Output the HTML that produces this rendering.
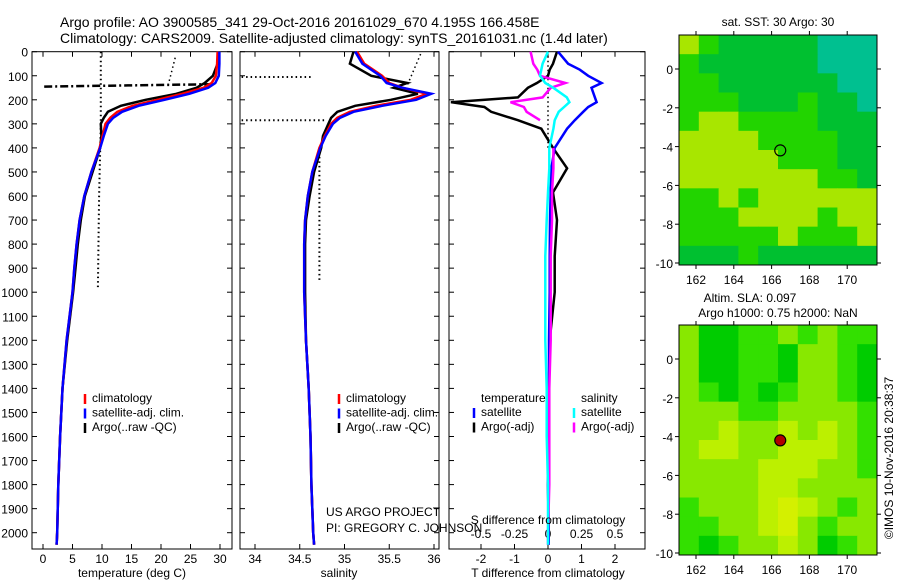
<!DOCTYPE html>
<html><head><meta charset="utf-8"><style>
html,body{margin:0;padding:0;background:#fff;}
svg{display:block;font-family:"Liberation Sans",sans-serif;}
</style></head><body>
<svg id="fig" width="900" height="580" viewBox="0 0 900 580">
<text x="60" y="27" font-size="14">Argo profile: AO 3900585_341 29-Oct-2016 20161029_670 4.195S 166.458E</text>
<text x="60" y="43" font-size="14">Climatology: CARS2009. Satellite-adjusted climatology: synTS_20161031.nc (1.4d later)</text>
</svg>
<script>
// ---------- data ----------
const depths = [0,50,100,130,150,175,200,225,250,275,300,350,400,500,600,700,800,900,1000,1200,1400,1600,1800,2000,2050];
const tempClim = [29.6,29.5,29.3,28.6,27.2,23.6,19.4,15.2,12.6,11.4,10.6,10.1,9.6,8.2,7.0,6.2,5.7,5.3,5.0,4.0,3.3,2.9,2.6,2.4,2.3];
const tempSat  = [29.9,29.9,29.8,29.2,28.0,24.8,20.6,16.2,13.4,11.9,11.0,10.3,9.7,8.2,7.0,6.2,5.7,5.3,5.0,4.0,3.3,2.9,2.6,2.4,2.3];
const tempArgo = [29.8,29.6,28.8,27.4,26.0,22.6,17.4,13.2,11.0,10.3,9.8,9.9,9.7,8.4,7.1,6.4,5.9,5.5,5.1,4.1,3.3,2.9,2.6,2.4,2.3];
const salClim = [35.14,35.22,35.42,35.5,35.65,35.92,35.74,35.35,35.06,34.92,34.85,34.78,34.72,34.64,34.59,34.56,34.55,34.55,34.55,34.57,34.6,34.62,34.63,34.65,34.66];
const salSat  = [35.12,35.2,35.4,35.47,35.65,35.97,35.8,35.42,35.1,34.95,34.87,34.79,34.73,34.64,34.59,34.56,34.55,34.55,34.55,34.57,34.6,34.62,34.63,34.65,34.66];
const salArgo = [35.1,35.06,35.3,35.7,35.55,35.82,35.52,35.12,34.92,34.85,34.82,34.76,34.74,34.66,34.61,34.57,34.56,34.56,34.56,34.57,34.6,34.62,34.63,34.65,34.66];
const diffDepths = [0,50,75,100,130,150,190,210,230,250,285,320,400,485,585,700,850,1000,1200,1400,1600,1800,2000,2050];
const dTsat  = [0.3,0.6,0.95,1.2,1.6,1.3,1.4,1.45,1.2,1.05,0.8,0.57,0.2,0.1,0.08,0.06,0.05,0.05,0.03,0.03,0.02,0.0,0.02,0.02];
const dTargo = [0.27,0.15,0.05,0.0,-0.33,-0.6,-0.9,-2.9,-1.9,-1.7,-0.9,-0.2,0.15,0.57,0.15,0.27,0.2,0.2,0.05,0.03,0.02,0.0,0.02,0.02];
const dSsat  = [0.0,-0.04,-0.05,-0.06,-0.02,0.04,0.14,0.16,0.12,0.08,0.05,0.04,0.01,0.01,0.0,-0.01,-0.02,-0.02,-0.02,-0.01,-0.01,0.0,0.0,0.0];
const dSargo = [-0.13,-0.11,-0.08,-0.06,0.13,0.02,-0.04,-0.28,-0.18,-0.16,-0.06,null,0.04,0.04,0.03,0.03,0.02,0.02,0.02,0.01,0.01,0.01,0.0,0.0];
const depthTicks = [0,100,200,300,400,500,600,700,800,900,1000,1100,1200,1300,1400,1500,1600,1700,1800,1900,2000];
const tempTicks = [0,5,10,15,20,25,30];
const salTicks = [34,34.5,35,35.5,36];
const tdTicks = [-2,-1,0,1,2];
const sdTicks = [-0.5,-0.25,0,0.25,0.5];
const sdTickLabels = ["-0.5","-0.25","0","0.25","0.5"];
const lonTicks = [162,164,166,168,170];
const latTicks = [0,-2,-4,-6,-8,-10];
const argoLon = 166.458, argoLat = -4.195;
const sstGrid = [
[3,2,1,1,1,1,1,0,0,0],[2,1,1,1,1,1,1,0,0,0],[2,2,1,1,1,1,1,1,0,0],[2,2,2,1,1,1,2,1,1,0],
[2,3,3,2,2,2,2,1,1,1],[3,3,3,3,2,2,2,2,1,1],[3,3,3,3,3,2,2,2,1,1],[3,3,3,3,3,3,3,2,2,1],
[2,2,3,2,3,3,3,3,3,3],[2,2,2,3,3,3,3,2,3,3],[2,2,2,2,2,3,2,2,2,3],[1,1,1,2,1,1,1,1,1,1]];
const slaGrid = [
[3,1,1,2,2,3,2,3,2,2],[3,1,1,2,2,1,3,3,2,1],[3,1,1,2,2,1,3,3,2,1],[3,2,1,2,1,2,3,3,2,1],
[3,3,3,2,2,3,3,3,3,2],[3,3,4,3,3,4,3,4,3,2],[3,4,4,3,3,4,4,4,3,2],[3,3,3,3,4,4,4,3,3,2],
[3,3,3,3,4,4,3,3,3,3],[2,3,3,3,4,5,4,3,2,3],[2,2,3,3,4,5,3,2,3,3],[2,1,2,3,3,4,3,1,2,3]];
const sstColors = ["#00c090","#00c030","#22d400","#a8e600","#e0e800"];
const slaColors = ["#00c000","#00cc00","#33e000","#88e800","#bcf000","#d4f000"];

// ---------- helpers ----------
const NS="http://www.w3.org/2000/svg", fig=document.getElementById('fig');
function mk(tag, at, parent){const e=document.createElementNS(NS,tag);for(const k in at)e.setAttribute(k,at[k]);(parent||fig).appendChild(e);return e;}
function txt(x,y,s,size,anchor){const e=mk('text',{x:x,y:y,'font-size':size||12,'text-anchor':anchor||'middle'});e.textContent=s;return e;}
const TOP=51.7, PXD=0.2405, BOT=549;
const yD = d => TOP + d*PXD;
function panel(name,x0,x1){
  const r=mk('rect',{x:x0,y:TOP,width:x1-x0,height:BOT-TOP,fill:'#fff',stroke:'#000','stroke-width':1});
  
  
}
function xTicks(name,x0,x1,ticks,labels,xf,ly){
  ticks.forEach((t,i)=>{const x=xf(t);
    mk('line',{x1:x,x2:x,y1:BOT,y2:BOT-5,stroke:'#000'});mk('line',{x1:x,x2:x,y1:TOP,y2:TOP+5,stroke:'#000'});
    const e=txt(x,ly,labels?labels[i]:String(t),12);
    
    });
}
function yTicks(x0,x1,withLabels){
  depthTicks.forEach(d=>{const y=yD(d);
    mk('line',{x1:x0,x2:x0+5,y1:y,y2:y,stroke:'#000'});mk('line',{x1:x1,x2:x1-5,y1:y,y2:y,stroke:'#000'});
    if(withLabels){const e=txt(28,y+5,String(d),12,'end');
      
      }});
}
function line(name,xs,ds,xf,color,w,dash){
  let segs=[[]];xs.forEach((v,i)=>{if(v===null){segs.push([]);return;}segs[segs.length-1].push(xf(v).toFixed(1)+','+yD(ds[i]).toFixed(1));});
  segs.filter(s=>s.length>1).forEach(s=>{const p=mk('polyline',{points:s.join(' '),fill:'none',stroke:color,'stroke-width':w,'stroke-dasharray':dash||'none'});
    
    });
}
function legend(x,y,items){
  items.forEach((it,i)=>{const yy=y+i*14.5;
    mk('line',{x1:x,x2:x,y1:yy-8,y2:yy+2,stroke:it[1],'stroke-width':2.5});
    const e=txt(x+7,yy,it[0],12,'start');
    
    });
}

// ---------- panel 1: temperature ----------
const xT = t => 43 + t*5.9;
panel('temperature-panel',32,232);
yTicks(32,232,true);
xTicks('temperature',32,232,tempTicks,null,xT,563);
line('temp-ref-dotted',[9.8,9.8,9.5,9.3],[0,300,600,980],xT,'#000',2,'1.5 3');
line('temp-ref-dotted-2',[22.4,21.2],[25,140],xT,'#000',1.5,'1.5 3');
line('mixed-layer-dashdot',[0.2,29],[145,135],xT,'#000',2.5,'8 3 2 3');
line('temp-argo',tempArgo,depths,xT,'#000',2.5);
line('temp-climatology',tempClim,depths,xT,'#f00',2.5);
line('temp-satellite',tempSat,depths,xT,'#00f',2.5);
legend(85,402,[['climatology','#f00'],['satellite-adj. clim.','#00f'],['Argo(..raw -QC)','#000']]);
{const e=txt(132,577,'temperature (deg C)',12);}

// ---------- panel 2: salinity ----------
const xS = s => 255 + (s-34)*89.5;
panel('salinity-panel',240,439);
yTicks(240,439,false);
xTicks('salinity',240,439,salTicks,null,xS,563);
line('sal-ref-dotted-1',[33.85,34.65],[105,105],xS,'#000',2,'1.5 3');
line('sal-ref-dotted-2',[33.85,34.8],[285,285],xS,'#000',2,'1.5 3');
line('sal-ref-dotted-3',[35.85,35.7],[10,140],xS,'#000',1.5,'1.5 3');
line('sal-ref-dotted-4',[34.72,34.72],[400,960],xS,'#000',2,'1.5 3');
line('sal-argo',salArgo,depths,xS,'#000',2.5);
line('sal-climatology',salClim,depths,xS,'#f00',2.5);
line('sal-satellite',salSat,depths,xS,'#00f',2.5);
legend(339,402,[['climatology','#f00'],['satellite-adj. clim.','#00f'],['Argo(..raw -QC)','#000']]);
{const e=txt(339,577,'salinity',12);}

// ---------- panel 3: differences ----------
const xTD = t => 548 + t*33.5;
const xSD = s => 548 + s*134;
panel('difference-panel',449,645);
yTicks(449,645,false);
xTicks('t-difference',449,645,tdTicks,null,xTD,563);
sdTicks.forEach((s,i)=>{const e=txt(xSD(s),538,sdTickLabels[i],12);});
line('zero-dotted',[0,0],[0,400],xTD,'#000',1.5,'1.5 3');
line('dT-argo',dTargo,diffDepths,xTD,'#000',2.5);
line('dT-satellite',dTsat,diffDepths,xTD,'#00f',2.5);
line('dS-argo',dSargo,diffDepths,xSD,'#f0f',2.5);
line('dS-satellite',dSsat,diffDepths,xSD,'#0ff',2.5);
{let e=txt(481,402,'temperature',12,'start');
 e=txt(581,402,'salinity',12,'start');}
legend(474,416,[['satellite','#00f'],['Argo(-adj)','#000']]);
legend(574,416,[['satellite','#0ff'],['Argo(-adj)','#f0f']]);
{let e=txt(548,524,'S difference from climatology',12);
 e=txt(548,577,'T difference from climatology',12);
 e=txt(326,516,'US ARGO PROJECT',12,'start');
 e=txt(326,532,'PI: GREGORY C. JOHNSON',12,'start');}

// ---------- maps ----------
const MX0=679, MX1=877, MH=230;
const xLon = lon => 696 + (lon-162)*18.9;
function map(name,y0,grid,colors,isSla){
  const rows=grid.length, cols=grid[0].length, cw=(MX1-MX0)/cols, ch=MH/rows;
  grid.forEach((row,r)=>row.forEach((v,c)=>{
    const cell=mk('rect',{x:MX0+c*cw,y:y0+r*ch,width:cw+0.5,height:ch+0.5,fill:colors[v]});
    
    }));
  const fr=mk('rect',{x:MX0,y:y0,width:MX1-MX0,height:MH,fill:'none',stroke:'#000'});
  
  
  const yLat = lat => y0+34 - lat*19.4;
  lonTicks.forEach(l=>{const x=xLon(l);mk('line',{x1:x,x2:x,y1:y0+MH,y2:y0+MH+4,stroke:'#000'});mk('line',{x1:x,x2:x,y1:y0,y2:y0-4,stroke:'#000'});
    const e=txt(x,y0+MH+19,String(l),12);});
  latTicks.forEach(l=>{const y=yLat(l);mk('line',{x1:MX0,x2:MX0-4,y1:y,y2:y,stroke:'#000'});mk('line',{x1:MX1,x2:MX1+4,y1:y,y2:y,stroke:'#000'});
    const e=txt(673,y+5,String(l),12,'end');});
  const m=mk('circle',{cx:xLon(argoLon),cy:yLat(argoLat),r:5.5,fill:isSla?'#b00000':'none',stroke:'#000','stroke-width':1.2});
  
  
}
map('sst-map',35,sstGrid,sstColors,false);
map('sla-map',325,slaGrid,slaColors,true);
{let e=txt(778,26,'sat. SST: 30 Argo: 30',12);
 e=txt(750,302,'Altim. SLA: 0.097',12);
 e=txt(778,317,'Argo h1000: 0.75 h2000: NaN',12);
 e=txt(0,0,'\u00A9IMOS 10-Nov-2016 20:38:37',12);e.setAttribute('transform','translate(893,458) rotate(-90)');
 }
</script>
</body></html>
